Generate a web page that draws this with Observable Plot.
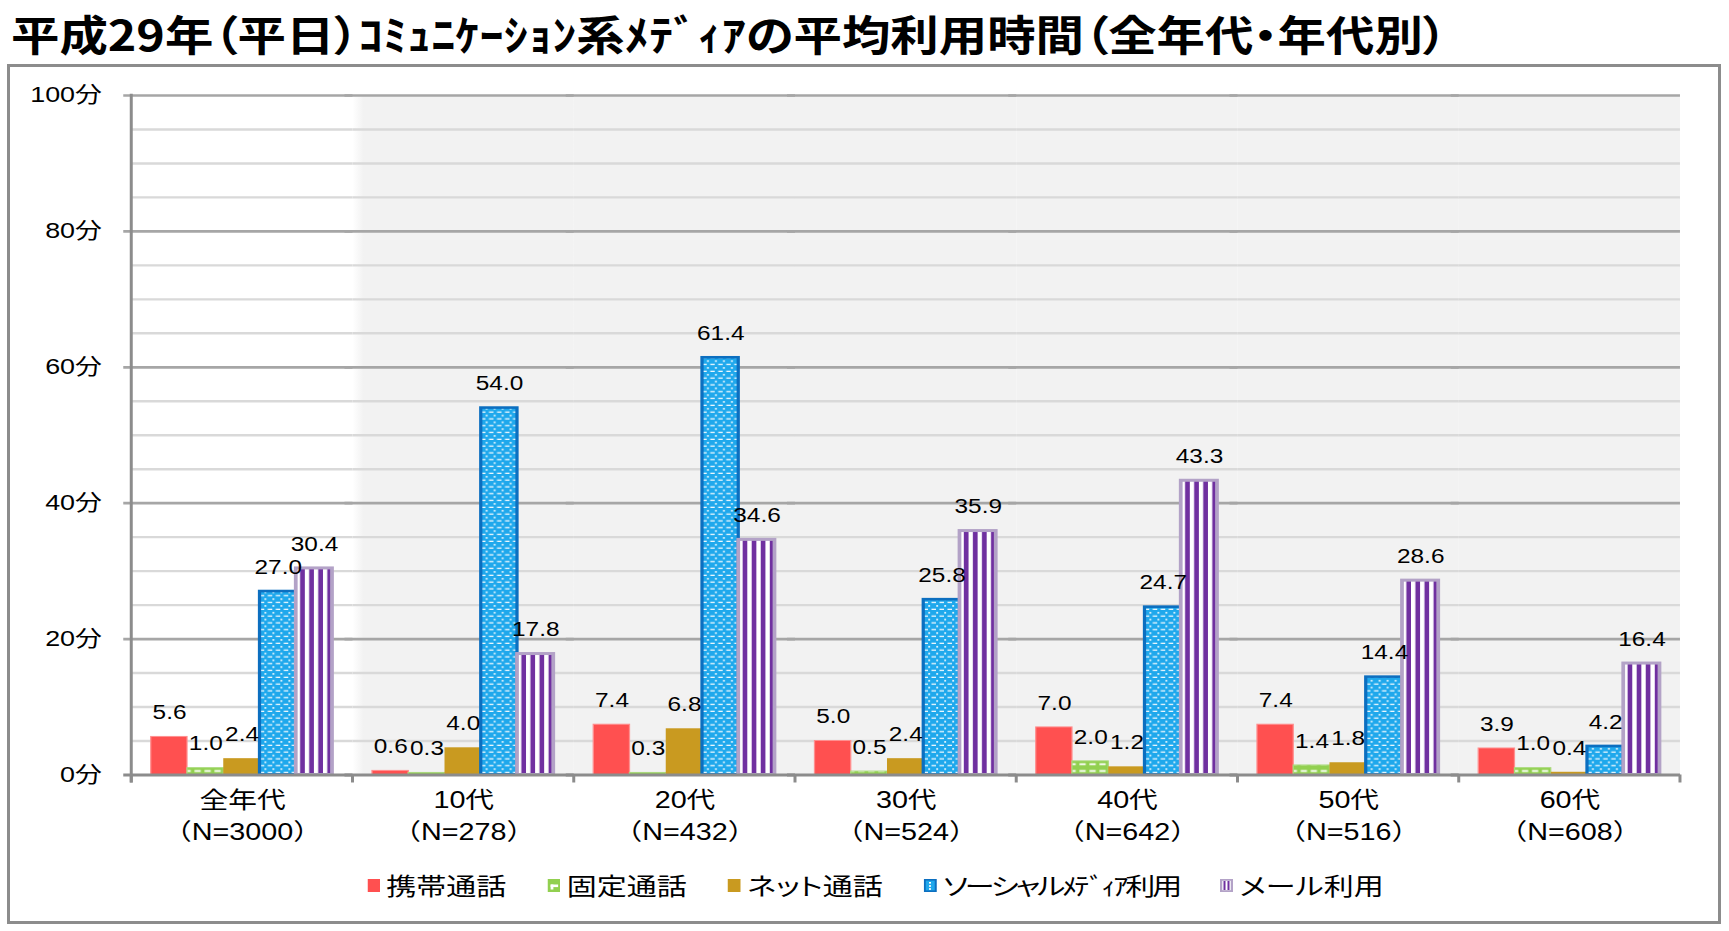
<!DOCTYPE html>
<html><head><meta charset="utf-8">
<script src="https://cdn.jsdelivr.net/npm/d3@7"></script>
<script src="https://cdn.jsdelivr.net/npm/@observablehq/plot@0.6"></script>
<style>
body{margin:0;background:#fff;width:1729px;height:931px;overflow:hidden;position:relative;font-family:"Liberation Sans","Noto Sans CJK JP",sans-serif;}
#title{position:absolute;left:0;top:0;}
#title text{font-feature-settings:"palt";}
#frame{position:absolute;left:7px;top:64px;width:1714px;height:860px;border:3px solid #8c8c8c;box-sizing:border-box;}
#stretch{position:absolute;left:0;top:0;width:1383.2px;height:931px;transform:scaleX(1.25);transform-origin:0 0;}
#chart{position:absolute;left:0;top:64px;}
#legend{position:absolute;top:870px;left:293.6px;display:flex;align-items:center;font-size:24px;line-height:30px;white-space:nowrap;font-family:"Noto Sans CJK JP",sans-serif;font-feature-settings:"palt";color:#000;}
.item{display:flex;align-items:center;margin-right:33px;}
.item svg{margin-right:5px;}
.item.tight span{letter-spacing:-2.4px;}
</style></head><body>
<svg width="0" height="0" style="position:absolute">
<defs>
<linearGradient id="bgGrad" x1="0" x2="1" y1="0" y2="0">
<stop offset="0" stop-color="#ffffff"/><stop offset="0.05" stop-color="#f2f2f2"/><stop offset="1" stop-color="#f2f2f2"/>
</linearGradient>
<pattern id="pLand" patternUnits="userSpaceOnUse" x="0" y="710.5" width="8" height="6.8">
<rect width="8" height="6.8" fill="#92d050"/>
<rect x="1" y="2.4" width="5" height="1.8" fill="#ffffff"/>
</pattern>
<pattern id="pSocial" patternUnits="userSpaceOnUse" width="6.4" height="6.8">
<rect width="6.4" height="6.8" fill="#1fa8ec"/>
<rect x="0.4" y="0.7" width="3.6" height="1.2" fill="#ffffff"/>
<rect x="4.2" y="4.0" width="1.5" height="1.5" fill="#ffffff"/>
</pattern>
<pattern id="pMail" patternUnits="objectBoundingBox" patternContentUnits="objectBoundingBox" width="0.25" height="1">
<rect width="0.25" height="1" fill="#ffffff"/>
<rect x="0.12" width="0.13" height="1" fill="#7030a0"/>
</pattern>
</defs>
</svg>
<svg id="title" width="1729" height="64"></svg>
<div id="frame"></div>
<div id="stretch">
<div id="chart"></div>
<div id="legend"></div>
</div>
<script>
// ---- data ----
const titleText = "平成29年（平日）ｺﾐｭﾆｹｰｼｮﾝ系ﾒﾃﾞｨｱの平均利用時間（全年代・年代別）";
const categories = ["全年代", "10代", "20代", "30代", "40代", "50代", "60代"];
const sampleSizes = ["N=3000", "N=278", "N=432", "N=524", "N=642", "N=516", "N=608"];
const seriesNames = ["携帯通話", "固定通話", "ネット通話", "ソーシャルﾒﾃﾞｨｱ利用", "メール利用"];
const mobileCall   = [5.6, 0.6, 7.4, 5.0, 7.0, 7.4, 3.9];
const landlineCall = [1.0, 0.3, 0.3, 0.5, 2.0, 1.4, 1.0];
const internetCall = [2.4, 4.0, 6.8, 2.4, 1.2, 1.8, 0.4];
const socialMedia  = [27.0, 54.0, 61.4, 25.8, 24.7, 14.4, 4.2];
const email        = [30.4, 17.8, 34.6, 35.9, 43.3, 28.6, 16.4];
const yTicks = [0, 20, 40, 60, 80, 100];
const yMinorTicks = [5, 10, 15, 25, 30, 35, 45, 50, 55, 65, 70, 75, 85, 90, 95];

// ---- styles ----
const seriesValues = [mobileCall, landlineCall, internetCall, socialMedia, email];
const seriesFill = ["#ff5050", "url(#pLand)", "#c99a20", "url(#pSocial)", "url(#pMail)"];
const seriesStroke = ["#ff8f8f", "#a9d97a", "none", "#0c6fc0", "#b3a2c7"];
const seriesStrokeWidth = [1, 1, 0, 2.6, 3];
const S = 1.25;
const W = 1729 / S;
const FONT = '"Liberation Sans","Noto Sans CJK JP",sans-serif';

// title
d3.select("#title").append("text")
  .attr("x", 11).attr("y", 51)
  .attr("font-size", 42).attr("font-weight", 700)
  .attr("font-family", '"Noto Sans CJK JP",sans-serif')
  .attr("textLength", 1436).attr("lengthAdjust", "spacingAndGlyphs")
  .text(titleText);

const table = categories.flatMap((c, i) => seriesNames.map((s, j) => ({cat: c, series: s, value: seriesValues[j][i]})));

const plot = Plot.plot({
  width: W,
  height: 790,
  marginLeft: 128 / S,
  marginRight: 47 / S,
  marginTop: 31,
  marginBottom: 79.5,
  style: {fontFamily: FONT, background: "transparent", color: "#000", overflow: "visible"},
  fx: {domain: categories, padding: 0, label: null, axis: null},
  x: {domain: seriesNames, paddingInner: 0, paddingOuter: 0.5, axis: null},
  y: {domain: [0, 100], axis: null},
  color: {type: "identity"},
  marks: [
    Plot.rect(categories, {fx: d => d, fill: d => d === categories[0] ? "#ffffff" : (d === categories[1] ? "url(#bgGrad)" : "#f2f2f2")}),
    Plot.ruleY(yMinorTicks, {stroke: "#d9d9d9", strokeWidth: 2.4}),
    Plot.ruleY(yTicks.filter(t => t > 0), {stroke: "#a6a6a6", strokeWidth: 2.7, insetLeft: -8 / S}),
    ...seriesNames.map((s, j) => Plot.barY(table.filter(d => d.series === s), {
      fx: "cat", x: "series", y: "value",
      fill: () => seriesFill[j], stroke: () => seriesStroke[j], strokeWidth: seriesStrokeWidth[j]
    })),
    Plot.ruleY([0], {stroke: "#8c8c8c", strokeWidth: 3, insetLeft: -8 / S}),
    Plot.text(table, {fx: "cat", x: "series", y: "value", text: d => d.value.toFixed(1), dy: -24, fontSize: 19.5, fill: "#000"}),
    Plot.axisY({ticks: yTicks, tickFormat: d => d + "分", tickSize: 0, tickPadding: 24, fontSize: 21.5, label: null, fill: "#000"}),
    Plot.axisFx({anchor: "bottom", tickSize: 0, tickPadding: 10, fontSize: 23, lineHeight: 1.4, label: null, fill: "#000",
      tickFormat: d => d + "\n（" + sampleSizes[categories.indexOf(d)] + "）"})
  ]
});
document.getElementById("chart").appendChild(plot);

// axis lines through the plot's own scales
const fx = plot.scale("fx"), y = plot.scale("y");
const y0 = y.apply(0), yTop = y.apply(100);
const left = fx.apply(categories[0]);
const step = fx.bandwidth;
const svg = d3.select(plot);
svg.append("line").attr("x1", left).attr("x2", left).attr("y1", yTop - 1.3).attr("y2", y0 + 8)
  .attr("stroke", "#8c8c8c").attr("stroke-width", 3 / S);
categories.concat([null]).forEach((c, i) => {
  const x = left + i * step;
  svg.append("line").attr("x1", x).attr("x2", x).attr("y1", y0).attr("y2", y0 + 8)
    .attr("stroke", "#8c8c8c").attr("stroke-width", 3 / S);
});

// legend
const markers = [
  '<rect x="0" y="0" width="10.4" height="13" fill="#ff5050"/>',
  '<rect x="0" y="0" width="10.4" height="13" fill="#92d050"/><rect x="2.5" y="5.5" width="6" height="2.6" fill="#fff"/><rect x="2.5" y="5.5" width="2.2" height="5" fill="#fff"/>',
  '<rect x="0" y="0" width="10.4" height="13" fill="#c99a20"/>',
  '<rect x="0.8" y="0.8" width="8.8" height="11.4" fill="#1fa8ec" stroke="#0c6fc0" stroke-width="1.6"/><rect x="4.2" y="3" width="1.6" height="1.6" fill="#fff"/><rect x="4.2" y="6.2" width="1.6" height="1.6" fill="#fff"/><rect x="4.2" y="9.2" width="1.6" height="1.6" fill="#fff"/>',
  '<rect x="0.9" y="0.9" width="8.6" height="11.2" fill="#fff" stroke="#b3a2c7" stroke-width="1.8"/><rect x="2.8" y="2" width="1.6" height="9" fill="#7030a0"/><rect x="6" y="2" width="1.6" height="9" fill="#7030a0"/>'
];
const legend = d3.select("#legend");
seriesNames.forEach((s, j) => {
  const it = legend.append("div").attr("class", j === 3 ? "item tight" : "item");
  it.append("svg").attr("width", 10.4).attr("height", 13).html(markers[j]);
  it.append("span").text(s);
});
</script>
</body></html>
